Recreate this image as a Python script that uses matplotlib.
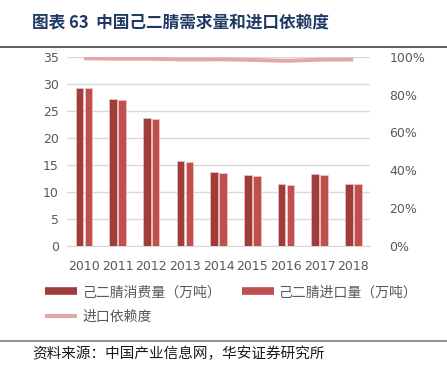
import matplotlib.pyplot as plt
import matplotlib.lines as mlines
import numpy as np

plt.rcParams['font.family'] = ['Noto Sans CJK SC', 'DejaVu Sans']

years = ['2010', '2011', '2012', '2013', '2014', '2015', '2016', '2017', '2018']
consumption = [29.3, 27.2, 23.6, 15.8, 13.6, 13.1, 11.4, 13.3, 11.5]
imports = [29.3, 27.1, 23.5, 15.6, 13.5, 13.0, 11.2, 13.1, 11.4]
dependency = [99.3, 99.0, 99.0, 98.6, 98.7, 98.4, 97.9, 98.5, 98.6]

c_cons = '#9E3D3A'
c_imp = '#C0504D'
c_dep = '#E2A7A7'
tick_c = '#595959'

fig = plt.figure(figsize=(4.47, 3.67), dpi=100)
ax = fig.add_axes([0.150, 0.330, 0.678, 0.515])

x = np.arange(len(years))
w = 0.225
ax.bar(x - w / 2 - 0.02, consumption, w, color=c_cons, edgecolor='#E8C4C4', linewidth=0.5, zorder=3)
ax.bar(x + w / 2 + 0.02, imports, w, color=c_imp, edgecolor='#EFC9C9', linewidth=0.5, zorder=3)
ax.set_xlim(-0.5, len(years) - 0.5)
ax.set_ylim(0, 35)
ax.set_yticks(range(0, 36, 5))
ax.set_xticks(x)
ax.set_xticklabels(years)
ax.yaxis.grid(True, color='#D9D9D9', linewidth=1, zorder=0)
ax.set_axisbelow(True)
for s in ['top', 'right', 'left']:
    ax.spines[s].set_visible(False)
ax.spines['bottom'].set_color('#D9D9D9')
ax.tick_params(axis='both', length=0, labelsize=9, colors=tick_c, pad=6)
ax.tick_params(axis='x', pad=10)
for lab in ax.get_xticklabels() + ax.get_yticklabels():
    lab.set_family('DejaVu Sans')

ax2 = ax.twinx()
ax2.plot(x, dependency, color=c_dep, linewidth=2.8, solid_capstyle='butt', zorder=4)
ax2.set_ylim(0, 100)
ax2.set_yticks(range(0, 101, 20))
ax2.set_yticklabels([f'{v}%' for v in range(0, 101, 20)])
for s in ['top', 'right', 'left', 'bottom']:
    ax2.spines[s].set_visible(False)
ax2.tick_params(axis='y', length=0, labelsize=9, colors=tick_c, pad=14)
for lab in ax2.get_yticklabels():
    lab.set_family('DejaVu Sans')

h_cons = mlines.Line2D([], [], color=c_cons, linewidth=5.5, solid_capstyle='butt')
h_imp = mlines.Line2D([], [], color=c_imp, linewidth=5.5, solid_capstyle='butt')
h_dep = mlines.Line2D([], [], color=c_dep, linewidth=3, solid_capstyle='butt')
leg = fig.legend([h_cons, h_dep, h_imp],
                 ['己二腈消费量（万吨）', '进口依赖度', '己二腈进口量（万吨）'],
                 ncol=2, loc='upper left', bbox_to_anchor=(0.089, 0.238),
                 frameon=False, fontsize=10, handlelength=2.3, handletextpad=0.35,
                 columnspacing=1.5, labelspacing=0.75, borderaxespad=0)
for t in leg.get_texts():
    t.set_color(tick_c)

fig.text(0.072, 0.94, '图表 63  中国己二腈需求量和进口依赖度', fontsize=12, fontweight='bold',
         color='#1F3864', va='center', ha='left')
fig.add_artist(mlines.Line2D([0, 1], [0.872, 0.872], color='#404040', linewidth=1.2))
fig.add_artist(mlines.Line2D([0, 1], [0.071, 0.071], color='#808080', linewidth=1.2))
fig.text(0.072, 0.036, '资料来源：中国产业信息网，华安证券研究所', fontsize=10.5,
         color='#1a1a1a', va='center', ha='left')

fig.savefig('out.png', dpi=100)
